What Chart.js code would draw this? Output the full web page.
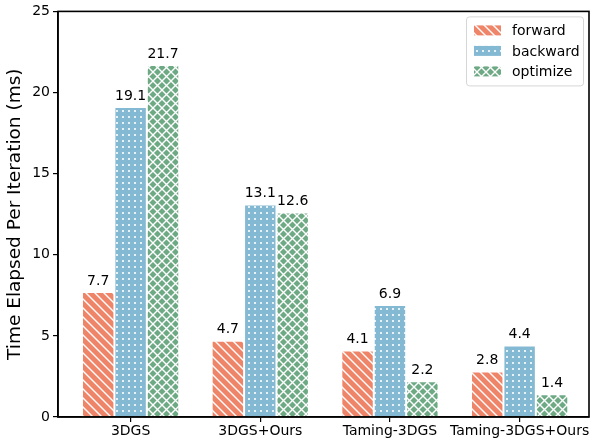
<!DOCTYPE html>
<html>
<head>
<meta charset="utf-8">
<script src="https://cdn.jsdelivr.net/npm/chart.js@4.4.1/dist/chart.umd.min.js"></script>
<style>
  html, body { margin: 0; padding: 0; background: #fff; }
  #wrap { width: 592px; height: 442px; }
</style>
</head>
<body>
<div id="wrap"><canvas id="timeChart" width="592" height="442"></canvas></div>
<script>
const methods = ['3DGS', '3DGS+Ours', 'Taming-3DGS', 'Taming-3DGS+Ours'];
const forwardMs = [7.7, 4.7, 4.1, 2.8];
const backwardMs = [19.1, 13.1, 6.9, 4.4];
const optimizeMs = [21.7, 12.6, 2.2, 1.4];
const yTicks = [0, 5, 10, 15, 20, 25];

const FONT = "'DejaVu Sans', sans-serif";

// hatch fills like matplotlib's '\\', '.', 'x'
function makePattern(base, kind) {
    const size = kind === 'dots' ? 6 : 9;
    const c = document.createElement('canvas');
    c.width = size; c.height = size;
    const g = c.getContext('2d');
    g.fillStyle = base;
    g.fillRect(0, 0, size, size);
    g.strokeStyle = '#fff';
    g.fillStyle = '#fff';
    g.lineWidth = 1.4;
    if (kind === 'back') {
        g.beginPath();
        g.moveTo(-1, -1); g.lineTo(size + 1, size + 1);
        g.moveTo(-1, size - 1); g.lineTo(1, size + 1);
        g.moveTo(size - 1, -1); g.lineTo(size + 1, 1);
        g.stroke();
    } else if (kind === 'dots') {
        g.beginPath();
        g.arc(size / 2, size / 2, 1.1, 0, Math.PI * 2);
        g.fill();
    } else {
        g.beginPath();
        g.moveTo(-1, -1); g.lineTo(size + 1, size + 1);
        g.moveTo(size + 1, -1); g.lineTo(-1, size + 1);
        g.stroke();
    }
    return g.createPattern(c, 'repeat');
}

const colors = ['#EE8468', '#84B9D3', '#6DAA84'];
const fills = [
    makePattern(colors[0], 'back'),
    makePattern(colors[1], 'dots'),
    makePattern(colors[2], 'cross')
];

const toPoints = arr => arr.map((v, i) => ({ x: i, y: v }));

const valueLabels = {
    id: 'valueLabels',
    afterDatasetsDraw(chart) {
        const ctx = chart.ctx;
        ctx.save();
        ctx.font = '14px ' + FONT;
        ctx.fillStyle = '#000';
        ctx.textAlign = 'center';
        ctx.textBaseline = 'bottom';
        chart.data.datasets.forEach((ds, i) => {
            chart.getDatasetMeta(i).data.forEach((bar, j) => {
                ctx.fillText(ds.data[j].y.toFixed(1), bar.x, bar.y - 4);
            });
        });
        ctx.restore();
    }
};

const frameAndLegend = {
    id: 'frameAndLegend',
    afterDraw(chart) {
        const ctx = chart.ctx;
        const a = chart.chartArea;
        ctx.save();
        ctx.strokeStyle = '#000';
        ctx.lineWidth = 1.6;
        ctx.strokeRect(a.left, a.top, a.right - a.left, a.bottom - a.top);

        // legend box in the upper right corner
        const bw = 117, bh = 69;
        const bx = a.right - bw - 6, by = a.top + 5;
        ctx.fillStyle = 'rgba(255,255,255,0.8)';
        ctx.strokeStyle = '#d6d6d6';
        ctx.lineWidth = 1;
        ctx.beginPath();
        ctx.roundRect(bx + 0.5, by + 0.5, bw, bh, 3);
        ctx.fill();
        ctx.stroke();
        ctx.font = '14px ' + FONT;
        ctx.textBaseline = 'middle';
        ctx.textAlign = 'left';
        chart.data.datasets.forEach((ds, i) => {
            const cy = by + 14 + i * 20.5;
            ctx.fillStyle = ds.backgroundColor;
            ctx.fillRect(bx + 8, cy - 5, 27, 10);
            ctx.fillStyle = '#000';
            ctx.fillText(ds.label, bx + 46, cy + 1);
        });
        ctx.restore();
    }
};

new Chart(document.getElementById('timeChart'), {
    type: 'bar',
    data: {
        datasets: [
            { label: 'forward', data: toPoints(forwardMs), backgroundColor: fills[0] },
            { label: 'backward', data: toPoints(backwardMs), backgroundColor: fills[1] },
            { label: 'optimize', data: toPoints(optimizeMs), backgroundColor: fills[2] }
        ].map(ds => Object.assign(ds, {
            borderColor: '#fff',
            borderWidth: 1,
            categoryPercentage: 0.75,
            barPercentage: 1.0
        }))
    },
    options: {
        responsive: false,
        animation: false,
        devicePixelRatio: 1,
        layout: { padding: { left: 0, top: 10, right: 3, bottom: 0 } },
        plugins: {
            legend: { display: false },
            tooltip: { enabled: false }
        },
        scales: {
            x: {
                type: 'linear',
                offset: false,
                min: -0.56,
                max: 3.535,
                afterBuildTicks(scale) { scale.ticks = methods.map((m, i) => ({ value: i })); },
                grid: { display: true, offset: false, drawOnChartArea: false, drawTicks: true, tickLength: 5, color: '#000', lineWidth: 1.2 },
                border: { display: true, color: '#000', width: 1.6 },
                ticks: {
                    color: '#000',
                    font: { family: FONT, size: 14 },
                    padding: 1,
                    maxRotation: 0,
                    autoSkip: false,
                    callback: v => methods[v]
                },
                afterFit(scale) { scale.height = 25; }
            },
            y: {
                min: 0,
                max: 25,
                afterBuildTicks(scale) { scale.ticks = yTicks.map(v => ({ value: v })); },
                grid: { display: true, drawOnChartArea: false, drawTicks: true, tickLength: 5, color: '#000', lineWidth: 1.2 },
                border: { display: true, color: '#000', width: 1.6 },
                ticks: { color: '#000', font: { family: FONT, size: 14 }, padding: 3 },
                title: {
                    display: true,
                    text: 'Time Elapsed Per Iteration (ms)',
                    color: '#000',
                    font: { family: FONT, size: 18.5 },
                    padding: { top: 4, bottom: 0 }
                },
                afterFit(scale) { scale.width = 58; }
            }
        }
    },
    plugins: [valueLabels, frameAndLegend]
});
</script>
</body>
</html>
